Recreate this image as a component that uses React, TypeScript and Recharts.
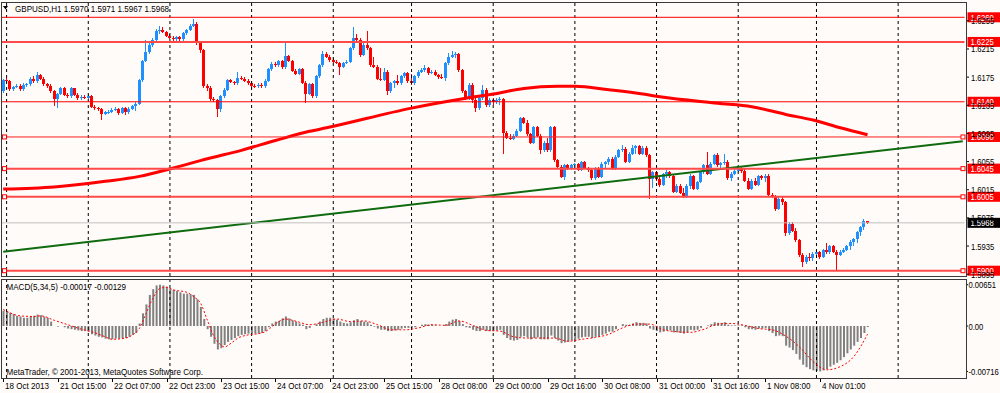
import React from 'react';
import { ComposedChart, Bar, Line, XAxis, YAxis, ReferenceLine } from 'recharts';

// ---------- data ----------
const opens = [
1.6155,1.6171,1.6169,1.6158,1.6161,1.6163,1.6158,1.6164,1.6165,1.6173,
1.6169,1.6178,1.6173,1.6165,1.6163,1.6155,1.6144,1.6151,1.6159,1.6150,
1.6148,1.6159,1.6150,1.6145,1.6147,1.6146,1.6148,1.6133,1.6131,1.6130,
1.6123,1.6125,1.6126,1.6129,1.6130,1.6124,1.6131,1.6125,1.6130,1.6134,
1.6137,1.6171,1.6198,1.6211,1.6220,1.6228,1.6241,1.6242,1.6239,1.6234,
1.6231,1.6229,1.6232,1.6229,1.6237,1.6242,1.6248,1.6250,1.6223,1.6213,
1.6163,1.6159,1.6144,1.6142,1.6130,1.6148,1.6157,1.6171,1.6168,1.6166,
1.6174,1.6173,1.6170,1.6166,1.6163,1.6162,1.6164,1.6162,1.6170,1.6186,
1.6194,1.6192,1.6198,1.6189,1.6205,1.6198,1.6184,1.6180,1.6186,1.6167,
1.6151,1.6165,1.6148,1.6176,1.6192,1.6208,1.6204,1.6199,1.6197,1.6195,
1.6190,1.6195,1.6197,1.6216,1.6231,1.6228,1.6207,1.6221,1.6216,1.6192,
1.6190,1.6173,1.6171,1.6183,1.6155,1.6166,1.6169,1.6166,1.6176,1.6181,
1.6169,1.6166,1.6176,1.6183,1.6185,1.6188,1.6181,1.6183,1.6178,1.6175,
1.6174,1.6195,1.6204,1.6207,1.6208,1.6185,1.6155,1.6145,1.6164,1.6143,
1.6131,1.6145,1.6157,1.6136,1.6143,1.6140,1.6143,1.6144,1.6096,1.6089,
1.6087,1.6092,1.6099,1.6117,1.6110,1.6094,1.6082,1.6104,1.6092,1.6071,
1.6082,1.6071,1.6104,1.6057,1.6048,1.6033,1.6050,1.6045,1.6050,1.6051,
1.6043,1.6054,1.6046,1.6043,1.6031,1.6045,1.6033,1.6052,1.6054,1.6059,
1.6045,1.6062,1.6071,1.6073,1.6055,1.6066,1.6075,1.6077,1.6066,1.6075,
1.6064,1.6030,1.6040,1.6030,1.6022,1.6037,1.6040,1.6035,1.6012,1.6021,
1.6011,1.6005,1.6021,1.6035,1.6016,1.6026,1.6040,1.6050,1.6038,1.6052,
1.6064,1.6050,1.6053,1.6055,1.6031,1.6038,1.6042,1.6045,1.6041,1.6028,
1.6016,1.6028,1.6022,1.6034,1.6031,1.6035,1.6007,1.6005,1.5988,1.6002,
1.5997,1.5953,1.5967,1.5957,1.5943,1.5922,1.5912,1.5920,1.5918,1.5924,
1.5926,1.5920,1.5929,1.5926,1.5935,1.5927,1.5923,1.5927,1.5930,1.5935,
1.5941,1.5945,1.5955,1.5962,1.5970,
];
const highs = [
1.6173,1.6174,1.6171,1.6163,1.6165,1.6165,1.6166,1.6167,1.6175,1.6176,
1.6183,1.6180,1.6175,1.6167,1.6165,1.6157,1.6153,1.6161,1.6161,1.6152,
1.6161,1.6160,1.6152,1.6149,1.6149,1.6151,1.6149,1.6135,1.6133,1.6131,
1.6127,1.6128,1.6131,1.6133,1.6131,1.6133,1.6132,1.6132,1.6136,1.6139,
1.6173,1.6200,1.6228,1.6224,1.6230,1.6243,1.6247,1.6246,1.6241,1.6236,
1.6233,1.6234,1.6234,1.6239,1.6244,1.6250,1.6257,1.6253,1.6225,1.6215,
1.6165,1.6163,1.6147,1.6144,1.6150,1.6159,1.6173,1.6173,1.6170,1.6183,
1.6176,1.6175,1.6172,1.6168,1.6165,1.6166,1.6166,1.6172,1.6188,1.6196,
1.6197,1.6200,1.6200,1.6223,1.6207,1.6200,1.6186,1.6188,1.6188,1.6169,
1.6167,1.6167,1.6178,1.6194,1.6212,1.6210,1.6206,1.6202,1.6199,1.6197,
1.6197,1.6200,1.6218,1.6246,1.6236,1.6230,1.6223,1.6240,1.6218,1.6204,
1.6192,1.6188,1.6188,1.6185,1.6168,1.6171,1.6178,1.6178,1.6183,1.6183,
1.6180,1.6178,1.6185,1.6188,1.6192,1.6190,1.6185,1.6185,1.6180,1.6179,
1.6197,1.6209,1.6212,1.6211,1.6209,1.6187,1.6157,1.6166,1.6166,1.6145,
1.6147,1.6164,1.6159,1.6145,1.6145,1.6145,1.6147,1.6146,1.6098,1.6094,
1.6094,1.6101,1.6119,1.6119,1.6114,1.6096,1.6106,1.6106,1.6094,1.6084,
1.6089,1.6106,1.6106,1.6059,1.6050,1.6052,1.6052,1.6052,1.6053,1.6053,
1.6056,1.6056,1.6048,1.6045,1.6047,1.6047,1.6054,1.6056,1.6062,1.6061,
1.6064,1.6073,1.6078,1.6076,1.6068,1.6078,1.6079,1.6079,1.6077,1.6077,
1.6066,1.6042,1.6042,1.6033,1.6039,1.6043,1.6042,1.6037,1.6023,1.6023,
1.6018,1.6023,1.6037,1.6036,1.6028,1.6042,1.6052,1.6069,1.6054,1.6066,
1.6067,1.6055,1.6066,1.6057,1.6040,1.6044,1.6047,1.6047,1.6045,1.6032,
1.6030,1.6032,1.6036,1.6036,1.6037,1.6038,1.6010,1.6008,1.6006,1.6006,
1.5999,1.5969,1.5969,1.5960,1.5945,1.5925,1.5922,1.5925,1.5926,1.5929,
1.5928,1.5931,1.5940,1.5937,1.5937,1.5930,1.5929,1.5932,1.5937,1.5943,
1.5947,1.5957,1.5964,1.5973,1.5971,
];
const lows = [
1.6153,1.6167,1.6156,1.6156,1.6159,1.6156,1.6155,1.6161,1.6163,1.6167,
1.6167,1.6171,1.6163,1.6160,1.6153,1.6134,1.6131,1.6149,1.6148,1.6146,
1.6146,1.6148,1.6143,1.6143,1.6144,1.6144,1.6131,1.6129,1.6127,1.6114,
1.6121,1.6122,1.6124,1.6127,1.6121,1.6122,1.6121,1.6123,1.6128,1.6127,
1.6135,1.6168,1.6196,1.6208,1.6218,1.6226,1.6236,1.6237,1.6232,1.6229,
1.6226,1.6227,1.6227,1.6227,1.6235,1.6240,1.6246,1.6221,1.6209,1.6160,
1.6156,1.6141,1.6139,1.6119,1.6126,1.6146,1.6155,1.6166,1.6164,1.6164,
1.6171,1.6168,1.6164,1.6161,1.6160,1.6160,1.6160,1.6160,1.6168,1.6184,
1.6190,1.6190,1.6187,1.6187,1.6196,1.6182,1.6178,1.6178,1.6165,1.6138,
1.6149,1.6146,1.6146,1.6174,1.6190,1.6202,1.6197,1.6195,1.6193,1.6178,
1.6188,1.6193,1.6195,1.6214,1.6226,1.6204,1.6205,1.6214,1.6190,1.6188,
1.6171,1.6169,1.6169,1.6150,1.6153,1.6159,1.6164,1.6164,1.6174,1.6166,
1.6164,1.6164,1.6174,1.6181,1.6183,1.6178,1.6179,1.6176,1.6173,1.6172,
1.6169,1.6192,1.6202,1.6202,1.6183,1.6153,1.6143,1.6143,1.6138,1.6125,
1.6129,1.6143,1.6133,1.6133,1.6136,1.6137,1.6135,1.6066,1.6087,1.6085,
1.6085,1.6090,1.6097,1.6108,1.6092,1.6080,1.6080,1.6090,1.6066,1.6068,
1.6069,1.6068,1.6055,1.6046,1.6031,1.6029,1.6043,1.6043,1.6046,1.6041,
1.6041,1.6044,1.6040,1.6029,1.6029,1.6031,1.6031,1.6045,1.6050,1.6043,
1.6043,1.6060,1.6069,1.6053,1.6053,1.6064,1.6066,1.6064,1.6064,1.6062,
1.6002,1.6017,1.6028,1.6019,1.6020,1.6031,1.6031,1.6010,1.6010,1.6009,
1.6003,1.6004,1.6016,1.6014,1.6014,1.6024,1.6038,1.6036,1.6036,1.6050,
1.6048,1.6045,1.6050,1.6029,1.6028,1.6036,1.6040,1.6039,1.6026,1.6014,
1.6014,1.6020,1.6020,1.6029,1.6026,1.6005,1.6003,1.5985,1.5986,1.5994,
1.5950,1.5951,1.5955,1.5941,1.5920,1.5905,1.5910,1.5914,1.5914,1.5918,
1.5917,1.5918,1.5924,1.5924,1.5925,1.5901,1.5921,1.5925,1.5928,1.5930,
1.5935,1.5939,1.5950,1.5958,1.5967,
];
const closes = [
1.6171,1.6169,1.6158,1.6161,1.6163,1.6158,1.6164,1.6165,1.6173,1.6169,
1.6178,1.6173,1.6165,1.6163,1.6155,1.6144,1.6151,1.6159,1.6150,1.6148,
1.6159,1.6150,1.6145,1.6147,1.6146,1.6148,1.6133,1.6131,1.6130,1.6123,
1.6125,1.6126,1.6129,1.6130,1.6124,1.6131,1.6125,1.6130,1.6134,1.6137,
1.6171,1.6198,1.6211,1.6220,1.6228,1.6241,1.6242,1.6239,1.6234,1.6231,
1.6229,1.6232,1.6229,1.6237,1.6242,1.6248,1.6250,1.6223,1.6213,1.6163,
1.6159,1.6144,1.6142,1.6130,1.6148,1.6157,1.6171,1.6168,1.6166,1.6174,
1.6173,1.6170,1.6166,1.6163,1.6162,1.6164,1.6162,1.6170,1.6186,1.6194,
1.6192,1.6198,1.6189,1.6205,1.6198,1.6184,1.6180,1.6186,1.6167,1.6151,
1.6165,1.6148,1.6176,1.6192,1.6208,1.6204,1.6199,1.6197,1.6195,1.6190,
1.6195,1.6197,1.6216,1.6231,1.6228,1.6207,1.6221,1.6216,1.6192,1.6190,
1.6173,1.6171,1.6183,1.6155,1.6166,1.6169,1.6166,1.6176,1.6181,1.6169,
1.6166,1.6176,1.6183,1.6185,1.6188,1.6181,1.6183,1.6178,1.6175,1.6174,
1.6195,1.6204,1.6207,1.6208,1.6185,1.6155,1.6145,1.6164,1.6143,1.6131,
1.6145,1.6157,1.6136,1.6143,1.6140,1.6143,1.6144,1.6096,1.6089,1.6087,
1.6092,1.6099,1.6117,1.6110,1.6094,1.6082,1.6104,1.6092,1.6071,1.6082,
1.6071,1.6104,1.6057,1.6048,1.6033,1.6050,1.6045,1.6050,1.6051,1.6043,
1.6054,1.6046,1.6043,1.6031,1.6045,1.6033,1.6052,1.6054,1.6059,1.6045,
1.6062,1.6071,1.6073,1.6055,1.6066,1.6075,1.6077,1.6066,1.6075,1.6064,
1.6030,1.6040,1.6030,1.6022,1.6037,1.6040,1.6035,1.6012,1.6021,1.6011,
1.6005,1.6021,1.6035,1.6016,1.6026,1.6040,1.6050,1.6038,1.6052,1.6064,
1.6050,1.6053,1.6055,1.6031,1.6038,1.6042,1.6045,1.6041,1.6028,1.6016,
1.6028,1.6022,1.6034,1.6031,1.6035,1.6007,1.6005,1.5988,1.6002,1.5997,
1.5953,1.5967,1.5957,1.5943,1.5922,1.5912,1.5920,1.5918,1.5924,1.5926,
1.5920,1.5929,1.5926,1.5935,1.5927,1.5923,1.5927,1.5930,1.5935,1.5941,
1.5945,1.5955,1.5962,1.5971,1.5968,
];
const macdMain = [
0.0024,0.0023,0.0021,0.0019,0.0016,0.0015,0.0013,0.0013,0.0015,0.0016,
0.0018,0.0017,0.0015,0.0013,0.0007,0.0000,-0.0001,0.0000,-0.0002,-0.0004,
-0.0005,-0.0006,-0.0007,-0.0008,-0.0008,-0.0009,-0.0013,-0.0015,-0.0017,-0.0018,
-0.0020,-0.0021,-0.0021,-0.0020,-0.0020,-0.0019,-0.0019,-0.0017,-0.0014,-0.0011,
0.0004,0.0020,0.0034,0.0049,0.0058,0.0064,0.00651,0.0064,0.0062,0.0059,
0.0057,0.0055,0.0053,0.0051,0.0051,0.0050,0.0049,0.0042,0.0030,0.0011,
-0.0005,-0.0017,-0.0028,-0.0037,-0.0035,-0.0030,-0.0025,-0.0022,-0.0019,-0.0016,
-0.0014,-0.0013,-0.0012,-0.0012,-0.0012,-0.0012,-0.0011,-0.0008,-0.0002,0.0004,
0.0007,0.0008,0.0012,0.0015,0.0012,0.0009,0.0007,0.0004,0.0002,-0.0005,
-0.0003,0.0000,0.0003,0.0007,0.0011,0.0013,0.0013,
0.0012,0.0010,0.0007,0.0005,0.0004,0.0006,0.0009,0.0011,
0.0008,0.0007,0.0006,0.0002,-0.0001,-0.0004,-0.0006,-0.0006,
-0.0008,-0.0008,-0.0007,-0.0006,-0.0004,-0.0003,-0.0003,-0.0003,-0.0002,0.0000,0.0002,0.0003,0.0002,
0.0002,0.0001,0.0000,0.0000,0.0003,0.0007,0.0010,0.0011,0.0008,0.0003,
-0.0002,-0.0003,-0.0006,-0.0008,-0.0008,-0.0006,-0.0008,-0.0008,-0.0008,-0.0007,-0.0006,
-0.0014,-0.0019,-0.0022,-0.0023,-0.0022,-0.0017,-0.0016,-0.0018,-0.0021,-0.0019,-0.0018,-0.0021,-0.0021,-0.0021,
-0.0015,-0.0019,-0.0023,-0.0027,-0.0026,-0.0025,-0.0023,-0.0021,-0.0020,-0.0018,-0.0017,-0.0017,-0.0019,-0.0017,-0.0017,
-0.0014,-0.0012,-0.0009,-0.0009,-0.0005,0.0000,0.0003,0.0002,0.0002,0.0004,0.0006,0.0005,0.0005,0.0004,-0.0004,
-0.0006,-0.0008,-0.0010,-0.0009,-0.0007,-0.0007,-0.0010,-0.0010,-0.0011,-0.0012,-0.0010,-0.0006,-0.0007,-0.0006,-0.0003,
0.0000,0.0001,0.0003,0.0006,0.0005,0.0005,0.0006,0.0002,0.0001,0.0001,0.0001,0.0001,-0.0002,-0.0005,-0.0005,
-0.0006,-0.0004,-0.0004,-0.0003,-0.0008,-0.0011,-0.0016,-0.0015,-0.0016,-0.0031,-0.0034,-0.0038,-0.0044,-0.0053,-0.0061,
-0.0065,-0.0068,-0.0070,-0.0071,-0.00716,-0.0070,-0.0068,-0.0064,-0.0061,-0.0058,-0.0054,-0.0049,-0.0043,-0.0037,-0.0031,-0.0025,-0.0019,-0.0011,-0.00017,
];
const signalIdx = [0,5,9,11,15,19,23,26,30,32,36,38,40,42,44,46,48,50,54,56,58,60,62,64,65,67,69,72,75,77,79,81,83,85,87,
90,94,98,102,106,110,114,118,122,126,130,134,138,142,146,150,154,158,162,166,170,174,178,182,186,190,194,198,202,206,210,214,218,222,226,230,234,238,242,246,250,254];
const signalVal = [0.0026,0.0016,0.0015,0.0016,0.0009,0.0002,-0.0005,-0.0009,-0.0017,-0.0021,-0.0019,-0.0014,-0.0004,0.0020,0.0044,0.0059,0.0061,0.0057,0.0053,0.0046,0.0036,0.0009,-0.0017,-0.0030,-0.0033,-0.0027,-0.0019,-0.0014,-0.0012,-0.0009,-0.0001,0.0007,0.0011,0.0009,0.0006,
0.0002,0.0006,0.0011,0.0007,0.0008,0.0002,-0.0006,-0.0006,-0.0003,0.0002,0.0001,0.0008,0.0001,-0.0007,-0.0008,-0.0017,-0.0019,-0.0019,-0.0019,-0.0024,-0.0021,-0.0018,-0.0013,-0.0003,0.0003,0.0003,-0.0006,-0.0009,-0.0010,-0.0005,0.0003,0.0004,0.0001,-0.0004,-0.0006,-0.0016,-0.0033,-0.0056,-0.0069,-0.0064,-0.0048,-0.00129];
const maIdx = [0,15,30,40,50,60,70,80,90,95,120,136,144,153,163,168,178,188,193,210,220,230,238,246,254];
const maVal = [1.6016,1.6019,1.6027,1.6034,1.6046,1.6059,1.6071,1.6085,1.6098,1.6103,1.6131,1.6145,1.6151,1.6159,1.6162,1.6162,1.6157,1.6151,1.6147,1.6138,1.6133,1.6122,1.6114,1.6103,1.6093];
const trendIdx = [0, 282];
const trendVal = [1.5927, 1.6084];
const timeLabels = ['18 Oct 2013','21 Oct 15:00','22 Oct 07:00','22 Oct 23:00','23 Oct 15:00','24 Oct 07:00','24 Oct 23:00','25 Oct 15:00','28 Oct 08:00','29 Oct 00:00','29 Oct 16:00','30 Oct 08:00','31 Oct 00:00','31 Oct 16:00','1 Nov 08:00','4 Nov 01:00'];
const timeLabelIdx = [0,16,32,48,64,80,96,112,128,144,160,176,192,208,224,240];
const daySeparators = [1,25,49,73,97,120,144,168,192,216,239,263];
const priceTicks = [1.6255,1.6215,1.6175,1.6135,1.6095,1.6055,1.6015,1.5975,1.5935,1.5895];
const macdTicks = [0.00651, 0, -0.00716];
const levelValues = [1.6260,1.6225,1.6140,1.6090,1.6045,1.6005,1.5900];
const SLOTS = 283;

// ---------- styles / layout ----------
const BG = '#FFFBF8';
const BULL = '#1E90FF';
const BEAR = '#FF0000';
const FONT = '"Liberation Sans", Arial, sans-serif';
const LEFT = 1.5;
const AXIS_W = 35.5;
const AXIS_X = 1000 - AXIS_W;
const levelStyles = [
  { w: 1, c: '#FF0000', sq: false },
  { w: 2, c: '#FF4A4A', sq: false },
  { w: 1, c: '#FF0000', sq: false },
  { w: 1, c: '#FF2020', sq: true },
  { w: 2, c: '#FF4A4A', sq: true },
  { w: 2, c: '#FF4A4A', sq: true },
  { w: 2, c: '#FF4A4A', sq: true },
];
const P_MIN = 1.589248, P_MAX = 1.628174;
const M_MIN = -0.008197, M_MAX = 0.007409;

const rows: any[] = Array.from({ length: SLOTS }, (_, i) => {
  const has = i < closes.length;
  return {
    i,
    range: has ? [lows[i], highs[i]] : null,
    o: has ? opens[i] : null,
    c: has ? closes[i] : null,
    macd: i < macdMain.length ? macdMain[i] : null,
    ma: null, trend: null, sig: null,
  };
});
maIdx.forEach((idx, k) => { rows[idx].ma = maVal[k]; });
trendIdx.forEach((idx, k) => { rows[idx].trend = trendVal[k]; });
signalIdx.forEach((idx, k) => { rows[idx].sig = signalVal[k]; });

const last = closes.length - 1;

function SText({ x, y, children, fill = '#000', size = 9.5, anchor = 'start' }: any) {
  return (
    <text transform={`translate(${x},${y}) scale(0.85,1)`} fontFamily={FONT} fontSize={size} fill={fill} textAnchor={anchor}>
      {children}
    </text>
  );
}

const Candle = (props: any) => {
  const { x, y, width, height, payload } = props;
  if (!payload || payload.o == null || payload.range == null) return null;
  let top = y, h = height;
  if (h < 0) { top = y + h; h = -h; }
  const [lo, hi] = payload.range;
  const k = hi > lo ? h / (hi - lo) : 0;
  const cx = Math.floor(x + width / 2);
  const yo = top + (hi - payload.o) * k;
  const yc = top + (hi - payload.c) * k;
  const bt = Math.round(Math.min(yo, yc));
  const bb = Math.max(bt + 1, Math.round(Math.max(yo, yc)));
  const col = payload.c >= payload.o ? BULL : BEAR;
  const wt = Math.round(top);
  const wb = Math.max(wt + 1, Math.round(top + h));
  return (
    <g shapeRendering="crispEdges">
      <rect x={cx} y={wt} width={1} height={wb - wt} fill={col} />
      <rect x={cx - 1} y={bt} width={3} height={bb - bt} fill={col} />
    </g>
  );
};

const LevelLabel = ({ viewBox, text, boxFill, stroke, squares }: any) => {
  if (!viewBox) return null;
  const { x, y, width } = viewBox;
  const bx = x + width + 3;
  return (
    <g>
      {squares && <rect x={x + 1} y={y - 2} width={4} height={4} fill={BG} stroke={stroke} strokeWidth={1} />}
      {squares && <rect x={x + width - 3.5} y={y - 2} width={4} height={4} fill={BG} stroke={stroke} strokeWidth={1} />}
      <rect x={bx} y={y - 5} width={40} height={10} fill={boxFill} />
      <SText x={bx + 3} y={y + 3.5} fill="#FFFFFF" size={9}>{text}</SText>
    </g>
  );
};

const PriceTick = (props: any) => {
  const { y, payload } = props;
  return (
    <g>
      <line x1={966} x2={969} y1={y} y2={y} stroke="#000" />
      <SText x={971} y={y + 3.5} size={9}>{payload.value.toFixed(4)}</SText>
    </g>
  );
};

const MacdTick = (props: any) => {
  const { y, payload } = props;
  const v = payload.value;
  return (
    <g>
      <line x1={966} x2={968} y1={y} y2={y} stroke="#000" />
      <SText x={968.5} y={y + 3.5} size={9}>{v === 0 ? '0.00' : v.toFixed(5)}</SText>
    </g>
  );
};

const TimeTick = (props: any) => {
  const { x, payload } = props;
  const k = timeLabelIdx.indexOf(payload.value);
  const tx = Math.round(x) + 0.5;
  return (
    <g>
      <line x1={tx} x2={tx} y1={99} y2={103} stroke="#000" />
      <SText x={tx + 1.5} y={109.5}>{timeLabels[k]}</SText>
    </g>
  );
};

export default function App() {
  const o = opens[last], h = highs[last], l = lows[last], c = closes[last];
  const macdLast = macdMain[macdMain.length - 1];
  const sigLast = signalVal[signalVal.length - 1];
  return (
    <div style={{ position: 'absolute', left: 0, top: 0, width: 1000, height: 393, background: BG, overflow: 'hidden' }}>
      <div style={{ position: 'absolute', left: 0, top: 0 }}>
        <ComposedChart width={1000} height={278} data={rows} margin={{ top: 2, right: 0, bottom: 2, left: LEFT }}>
          <XAxis dataKey="i" hide />
          <YAxis orientation="right" width={AXIS_W} domain={[P_MIN, P_MAX]} allowDataOverflow ticks={priceTicks} interval={0}
            axisLine={false} tickLine={false} tick={<PriceTick />} />
          {daySeparators.map((d) => (
            <ReferenceLine key={'d' + d} x={d} stroke="#000" strokeDasharray="3 3" strokeWidth={1} />
          ))}
          <Bar dataKey="range" shape={<Candle />} barSize={3} isAnimationActive={false} />
          <Line dataKey="trend" connectNulls stroke="#0E6B0E" strokeWidth={2} dot={false} isAnimationActive={false} />
          <Line dataKey="ma" type="monotone" connectNulls stroke="#FF0000" strokeWidth={3} dot={false} isAnimationActive={false} />
          <ReferenceLine y={c} stroke="#C0C0C0" strokeWidth={1}
            label={(p: any) => <LevelLabel viewBox={p.viewBox} text={c.toFixed(4)} boxFill="#000000" stroke="#C0C0C0" squares={false} />} />
          {levelValues.map((v, k) => (
            <ReferenceLine key={'l' + v} y={v} stroke={levelStyles[k].c} strokeWidth={levelStyles[k].w}
              label={(p: any) => <LevelLabel viewBox={p.viewBox} text={v.toFixed(4)} boxFill="#FF0000" stroke="#FF0000" squares={levelStyles[k].sq} />} />
          ))}
        </ComposedChart>
      </div>
      <div style={{ position: 'absolute', left: 0, top: 279 }}>
        <ComposedChart width={1000} height={114} data={rows} margin={{ top: 0, right: 0, bottom: 0, left: LEFT }}>
          <XAxis dataKey="i" ticks={timeLabelIdx} interval={0} height={15} axisLine={false} tickLine={false} tick={<TimeTick />} />
          <YAxis orientation="right" width={AXIS_W} domain={[M_MIN, M_MAX]} allowDataOverflow ticks={macdTicks} interval={0}
            axisLine={false} tickLine={false} tick={<MacdTick />} />
          {daySeparators.map((d) => (
            <ReferenceLine key={'m' + d} x={d} stroke="#000" strokeDasharray="3 3" strokeWidth={1} />
          ))}
          <Bar dataKey="macd" fill="#808080" barSize={2} isAnimationActive={false} />
          <Line dataKey="sig" type="monotone" connectNulls stroke="#FF0000" strokeWidth={1} strokeDasharray="2 2" dot={false} isAnimationActive={false} />
        </ComposedChart>
      </div>
      <svg width={1000} height={393} style={{ position: 'absolute', left: 0, top: 0, pointerEvents: 'none' }}>
        <g shapeRendering="crispEdges" fill="none" stroke="#3A3A3A" strokeWidth={1}>
          <path d="M1.5 2.5 H966.5 V276.5 H1.5 Z" />
          <path d="M1.5 279.5 H966.5 V378.5 H1.5 Z" />
        </g>
        <polygon points="3,6 8,6 5.5,9.5" fill="#000" />
        <SText x={15} y={11.5}>{`GBPUSD,H1  ${o.toFixed(4)} ${h.toFixed(4)} ${l.toFixed(4)} ${c.toFixed(4)}`}</SText>
        <SText x={6.5} y={290}>{`MACD(5,34,5) ${macdLast.toFixed(5)} ${sigLast.toFixed(5)}`}</SText>
        <SText x={6.5} y={375}>MetaTrader, © 2001-2013, MetaQuotes Software Corp.</SText>
      </svg>
    </div>
  );
}
